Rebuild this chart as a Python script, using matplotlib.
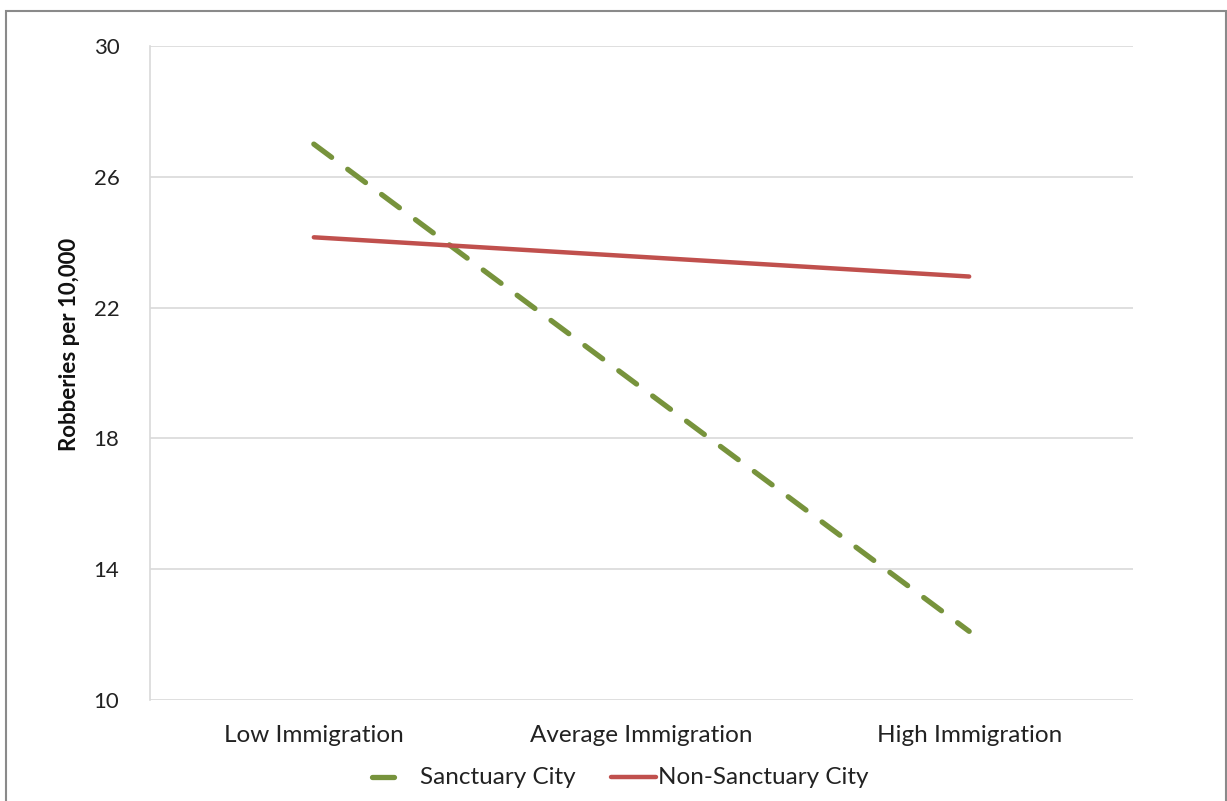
import matplotlib
matplotlib.use("Agg")
import matplotlib.pyplot as plt
from matplotlib.patches import Rectangle
from matplotlib.lines import Line2D

categories = ["Low Immigration", "Average Immigration", "High Immigration"]
sanctuary = [27.0, 19.55, 12.1]
non_sanctuary = [24.15, 23.55, 22.95]
yticks = [10, 14, 18, 22, 26, 30]
series_names = ["Sanctuary City", "Non-Sanctuary City"]

plt.rcParams['font.family'] = ['Lato', 'DejaVu Sans']

W, H = 1227, 801
fig = plt.figure(figsize=(W/100, H/100), dpi=100)
ax = fig.add_axes([150/W, 1-700/H, (1133-150)/W, (700-46)/H])

green = "#77933C"
red = "#C0504D"

x = list(range(len(categories)))
ax.plot(x, sanctuary, color=green, lw=3.8, linestyle=(0, (4.2, 3.8)),
        dash_capstyle='round')
ax.plot(x, non_sanctuary, color=red, lw=3.2, solid_capstyle='round')

ax.set_xlim(-0.5, 2.5)
ax.set_ylim(10, 30)
ax.set_yticks(yticks)
ax.set_xticks(x)
ax.set_xticklabels(categories)
ax.tick_params(axis='both', length=0, colors='#222222')
ax.tick_params(axis='x', labelsize=17.5, pad=18)
ax.tick_params(axis='y', labelsize=16, pad=22)
ax.grid(axis='y', color='#D9D9D9', lw=1.2)
ax.set_axisbelow(True)
for s in ['top', 'right', 'bottom']:
    ax.spines[s].set_visible(False)
ax.spines['left'].set_color('#D9D9D9')
ax.spines['left'].set_linewidth(1.2)

fig.text(70/W, 1-344/H, "Robberies per 10,000", rotation=90, ha='center', va='center',
         fontsize=16, fontweight='bold', color='#111111')

# legend drawn manually to match short handles
ly = 1 - 777/H
fig.add_artist(Line2D([372/W, 394/W], [ly, ly], transform=fig.transFigure,
                      color=green, lw=3.8, solid_capstyle='round'))
fig.text(420/W, ly, series_names[0], ha='left', va='center', fontsize=17.5, color='#222222')
fig.add_artist(Line2D([611/W, 656/W], [ly, ly], transform=fig.transFigure,
                      color=red, lw=3.2, solid_capstyle='round'))
fig.text(658/W, ly, series_names[1], ha='left', va='center', fontsize=17.5, color='#222222')

fig.patches.append(Rectangle((6/W, -0.01), (1226-6)/W, 1-11/H+0.01, transform=fig.transFigure,
                             fill=False, edgecolor='#8A8A8A', lw=1.5))

fig.savefig("out.png", dpi=100)
